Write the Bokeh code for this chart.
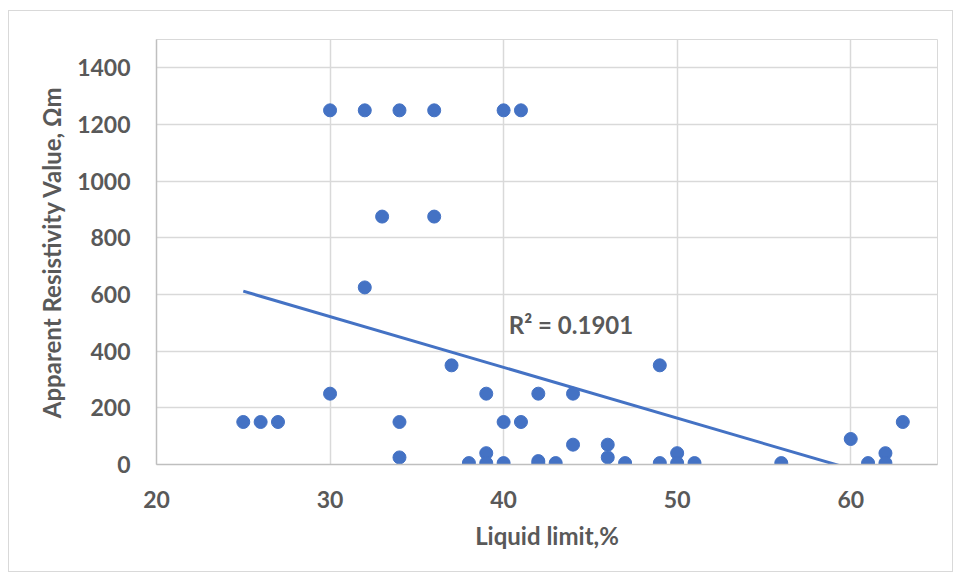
import numpy as np
from bokeh.plotting import figure
from bokeh.models import ColumnDataSource, FixedTicker, Range1d, Label
from bokeh.embed import file_html
from bokeh.resources import INLINE

# Data
liquid_limit = [30, 32, 34, 36, 40, 41,
                33, 36,
                32,
                37, 49,
                30, 39, 42, 44,
                25, 26, 27, 34, 40, 41, 63,
                60,
                44, 46,
                39, 50, 62,
                34, 46,
                38, 39, 40, 42, 42, 43, 47, 49, 50, 51, 56, 61, 62]
resistivity = [1250, 1250, 1250, 1250, 1250, 1250,
               875, 875,
               625,
               350, 350,
               250, 250, 250, 250,
               150, 150, 150, 150, 150, 150, 150,
               90,
               70, 70,
               40, 40, 40,
               25, 25,
               5, 5, 5, 12, 4, 5, 5, 5, 5, 5, 5, 5, 5]
x_ticks = [20, 30, 40, 50, 60]
y_ticks = [0, 200, 400, 600, 800, 1000, 1200, 1400]
r2_text = "R² = 0.1901"

# Linear trendline (least squares) from the data
xa = np.array(liquid_limit, dtype=float)
ya = np.array(resistivity, dtype=float)
slope, intercept = np.polyfit(xa, ya, 1)
tx = [xa.min(), xa.max()]
ty = [slope * v + intercept for v in tx]

FONT = "Lato"
GRAY = "#595959"
BLUE = "#4472C4"

p = figure(width=943, height=560, output_backend="svg", toolbar_location=None,
           x_range=Range1d(20, 65), y_range=Range1d(0, 1500),
           min_border_left=147, min_border_right=15, min_border_top=28,
           min_border_bottom=107)
p.frame_width = 781
p.frame_height = 425
p.styles = {"border": "1px solid #d9d9d9", "margin-left": "8px", "margin-top": "10px"}

p.outline_line_color = "#d9d9d9"
p.background_fill_color = "white"
p.border_fill_color = "white"

for ax in (p.xaxis, p.yaxis):
    ax.axis_line_color = "#bfbfbf"
    ax.axis_line_width = 1.5
    ax.major_tick_line_color = None
    ax.minor_tick_line_color = None
    ax.major_label_text_font = FONT
    ax.major_label_text_font_style = "bold"
    ax.major_label_text_font_size = "23px"
    ax.major_label_text_color = GRAY
    ax.axis_label_text_font = FONT
    ax.axis_label_text_font_style = "bold"
    ax.axis_label_text_color = GRAY

p.xaxis.axis_label_text_font_size = "24px"
p.yaxis.axis_label_text_font_size = "24px"
p.xaxis.ticker = FixedTicker(ticks=x_ticks)
p.yaxis.ticker = FixedTicker(ticks=y_ticks)
p.xaxis.major_label_standoff = 20
p.yaxis.major_label_standoff = 20
p.xaxis.axis_label = "Liquid limit,%"
p.yaxis.axis_label = "Apparent Resistivity Value, Ωm"
p.xaxis.axis_label_standoff = 10
p.yaxis.axis_label_standoff = 8

p.xgrid.ticker = FixedTicker(ticks=x_ticks)
p.ygrid.ticker = FixedTicker(ticks=y_ticks)
p.grid.grid_line_color = "#d9d9d9"
p.grid.grid_line_width = 1.5

src = ColumnDataSource(data=dict(x=liquid_limit, y=resistivity))
p.line(tx, ty, line_color=BLUE, line_width=3)
p.scatter("x", "y", source=src, size=13, fill_color=BLUE, line_color=BLUE)

p.add_layout(Label(x=40.3, y=494, text=r2_text, text_font=FONT,
                   text_font_style="bold", text_font_size="24px",
                   text_color=GRAY, text_baseline="middle", text_align="left"))

open("out.html", "w").write(file_html(p, INLINE))
